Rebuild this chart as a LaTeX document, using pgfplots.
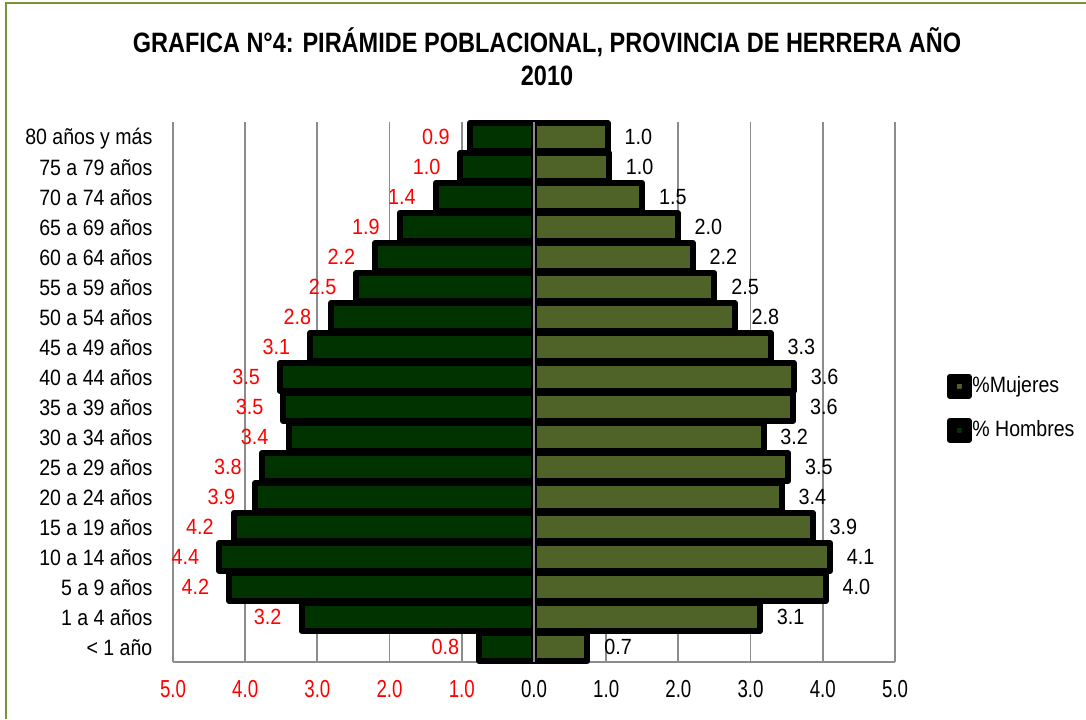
\documentclass[border=0pt]{standalone}
\usepackage{fontspec}
\setmainfont{Liberation Sans}[FakeStretch=0.88]
\newfontfamily\tickfont{Liberation Sans}[FakeStretch=0.76]
\newfontfamily\datafont{Liberation Sans}[FakeStretch=0.9]
\newfontfamily\titlefont{Liberation Sans}[FakeStretch=0.84]
\usepackage{pgfplots}
\usepackage{pgfplotstable}
\pgfplotsset{compat=1.18}
\definecolor{menfill}{RGB}{0,51,0}
\definecolor{womenfill}{RGB}{79,98,40}
\definecolor{frameg}{RGB}{119,147,60}
\definecolor{gridg}{RGB}{140,140,140}

\pgfplotstableread{
y x lab
0 -0.76 0.8
1 -3.22 3.2
2 -4.22 4.2
3 -4.36 4.4
4 -4.16 4.2
5 -3.86 3.9
6 -3.77 3.8
7 -3.40 3.4
8 -3.47 3.5
9 -3.52 3.5
10 -3.10 3.1
11 -2.81 2.8
12 -2.46 2.5
13 -2.20 2.2
14 -1.86 1.9
15 -1.36 1.4
16 -1.02 1.0
17 -0.89 0.9
}\men

\pgfplotstableread{
y x lab
0 0.74 0.7
1 3.13 3.1
2 4.04 4.0
3 4.10 4.1
4 3.86 3.9
5 3.43 3.4
6 3.52 3.5
7 3.18 3.2
8 3.59 3.6
9 3.60 3.6
10 3.28 3.3
11 2.78 2.8
12 2.50 2.5
13 2.20 2.2
14 1.99 2.0
15 1.50 1.5
16 1.04 1.0
17 1.02 1.0
}\women

\begin{document}
\begin{tikzpicture}
\path[use as bounding box] (0,0) rectangle (543pt,359.5pt);
\draw[frameg, line width=1pt] (3pt,0) -- (3pt,358pt) -- (543pt,358pt);
\node[anchor=base, inner sep=0pt] at (273.5pt,333pt) {\titlefont\bfseries\fontsize{14}{17}\selectfont GRAFICA N°4: PIRÁMIDE POBLACIONAL, PROVINCIA DE HERRERA AÑO};
\node[anchor=base, inner sep=0pt] at (273.5pt,316.5pt) {\titlefont\bfseries\fontsize{14}{17}\selectfont 2010};
\begin{axis}[
  at={(86.5pt,28.5pt)}, anchor=south west,
  scale only axis, width=361pt, height=270pt,
  xmin=-5, xmax=5, ymin=-0.5, ymax=17.5,
  clip=false,
  xbar, bar width=14pt, bar shift=0pt,
  xtick={-5,-4,-3,-2,-1,0,1,2,3,4,5},
  xticklabels={\textcolor{red}{5.0},\textcolor{red}{4.0},\textcolor{red}{3.0},\textcolor{red}{2.0},\textcolor{red}{1.0},0.0,1.0,2.0,3.0,4.0,5.0},
  ytick={0,...,17},
  yticklabels={{< 1 año},{1 a 4 años},{5 a 9 años},{10 a 14 años},{15 a 19 años},{20 a 24 años},{25 a 29 años},{30 a 34 años},{35 a 39 años},{40 a 44 años},{45 a 49 años},{50 a 54 años},{55 a 59 años},{60 a 64 años},{65 a 69 años},{70 a 74 años},{75 a 79 años},{80 años y más}},
  xmajorgrids, ymajorgrids=false,
  major grid style={gridg, line width=0.9pt},
  axis x line*=bottom, axis y line*=left,
  axis line style={gridg, line width=0.9pt, -},
  major tick length=0pt,
  xticklabel style={font=\tickfont\fontsize{12.3}{14}\selectfont, yshift=-5.8pt},
  yticklabel style={font=\fontsize{11.1}{13}\selectfont, anchor=base east, xshift=-6.8pt, yshift=-4pt},
  legend style={draw=none, fill=none, at={(1,0.5)}, anchor=west, xshift=25.7pt, yshift=-8.2pt,
    inner sep=0pt, row sep=9.5pt, font=\fontsize{11.1}{13}\selectfont, nodes={inner sep=0.3pt}},
  legend cell align=left,
  legend image code/.code={
    \path (0pt,-4.75pt) rectangle (9.5pt,4.75pt);
    \draw[#1, line width=3.5pt, rounded corners=1.5pt] (1.75pt,-3pt) rectangle (7.75pt,3pt);
  },
]
\addplot[draw=black, fill=womenfill, line width=3pt, line join=round,
  nodes near coords, point meta=explicit symbolic,
  every node near coord/.append style={anchor=west, xshift=3.6pt, text=black, font=\datafont\fontsize{11}{13}\selectfont}]
  table[x=x, y=y, meta=lab] {\women};
\addlegendentry{\%Mujeres}
\addplot[draw=black, fill=menfill, line width=3pt, line join=round,
  nodes near coords, point meta=explicit symbolic,
  every node near coord/.append style={anchor=east, xshift=-5.2pt, text=red, font=\datafont\fontsize{11}{13}\selectfont}]
  table[x=x, y=y, meta=lab] {\men};
\addlegendentry{\% Hombres}
\draw[gridg, line width=0.9pt] (axis cs:0,-0.5) -- (axis cs:0,17.5);
\end{axis}
\end{tikzpicture}
\end{document}
